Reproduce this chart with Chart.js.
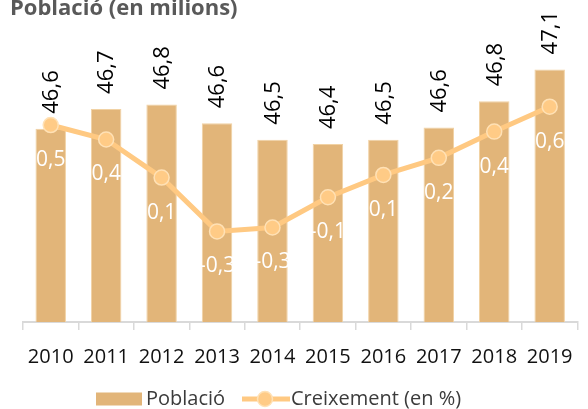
<!DOCTYPE html>
<html>
<head>
<meta charset="utf-8">
<script src="https://cdn.jsdelivr.net/npm/chart.js@4.4.1/dist/chart.umd.min.js"></script>
<style>
  html, body { margin: 0; padding: 0; background: #fff; }
  #wrap { width: 588px; height: 409px; }
</style>
</head>
<body>
<div id="wrap"><canvas id="chart" width="588" height="409"></canvas></div>
<script>
// ===== Dades (llegides del gràfic) =====
const years = ["2010", "2011", "2012", "2013", "2014", "2015", "2016", "2017", "2018", "2019"];
const poblacio = [46.56, 46.74, 46.78, 46.61, 46.46, 46.42, 46.46, 46.57, 46.81, 47.10];
const creixement = [0.49, 0.38, 0.09, -0.32, -0.29, -0.06, 0.11, 0.24, 0.44, 0.63];

const TITLE = "Població (en milions)";
const LABEL_BARS = "Població";
const LABEL_LINE = "Creixement (en %)";

const BAR_COLOR = "#E2B579";
const LINE_COLOR = "#FFC982";
const FONT = '"Open Sans", "Liberation Sans", sans-serif';

const fmt = (v) => v.toFixed(1).replace(".", ",");

// títol, etiquetes de dades i llegenda
const deco = {
  id: "deco",
  afterDatasetsDraw(chart) {
    const ctx = chart.ctx;
    ctx.save();

    // valors de les barres, girats
    ctx.font = "22px " + FONT;
    ctx.fillStyle = "#000";
    ctx.textAlign = "left";
    ctx.textBaseline = "middle";
    chart.getDatasetMeta(0).data.forEach((el, i) => {
      ctx.save();
      ctx.translate(el.x + 1, el.y - 15);
      ctx.rotate(-Math.PI / 2);
      ctx.fillText(fmt(poblacio[i]), 0, 0);
      ctx.restore();
    });

    // valors del creixement, en blanc sota el punt
    ctx.font = "21px " + FONT;
    ctx.fillStyle = "#fff";
    ctx.textAlign = "center";
    chart.getDatasetMeta(1).data.forEach((el, i) => {
      ctx.fillText(fmt(creixement[i]), el.x, el.y + 35);
    });
    ctx.restore();
  },
  afterDraw(chart) {
    const ctx = chart.ctx;
    ctx.save();
    ctx.font = "bold 22px " + FONT;
    ctx.fillStyle = "#595959";
    ctx.textAlign = "left";
    ctx.textBaseline = "alphabetic";
    ctx.fillText(TITLE, 10, 15);

    // llegenda
    const ly = 399;
    ctx.fillStyle = BAR_COLOR;
    ctx.fillRect(96, ly - 6.5, 46, 13);
    ctx.strokeStyle = LINE_COLOR;
    ctx.lineWidth = 5;
    ctx.beginPath();
    ctx.moveTo(242, ly);
    ctx.lineTo(290, ly);
    ctx.stroke();
    ctx.beginPath();
    ctx.arc(265, ly, 7.5, 0, Math.PI * 2);
    ctx.fillStyle = "#FFCB86";
    ctx.fill();
    ctx.lineWidth = 1.5;
    ctx.strokeStyle = "#FFE1B5";
    ctx.stroke();

    ctx.font = "20px " + FONT;
    ctx.fillStyle = "#3b3b3b";
    ctx.textBaseline = "middle";
    ctx.fillText(LABEL_BARS, 146, ly);
    ctx.fillText(LABEL_LINE, 291, ly);
    ctx.restore();
  }
};

new Chart(document.getElementById("chart"), {
  type: "bar",
  data: {
    labels: years,
    datasets: [
      {
        type: "bar",
        label: LABEL_BARS,
        data: poblacio,
        yAxisID: "y",
        backgroundColor: BAR_COLOR,
        borderColor: "#F1D2A4",
        borderWidth: 1,
        barPercentage: 0.55,
        categoryPercentage: 1,
        order: 2
      },
      {
        type: "line",
        label: LABEL_LINE,
        data: creixement,
        yAxisID: "y1",
        borderColor: LINE_COLOR,
        borderWidth: 5,
        tension: 0,
        pointRadius: 7.5,
        pointBackgroundColor: "#FFCB86",
        pointBorderColor: "#FFE1B5",
        pointBorderWidth: 1.5,
        clip: false,
        order: 1
      }
    ]
  },
  options: {
    responsive: false,
    animation: false,
    layout: { padding: { left: 23, right: -1, top: 20, bottom: 25 } },
    plugins: {
      legend: { display: false },
      title: { display: false },
      tooltip: { enabled: false }
    },
    scales: {
      x: {
        grid: {
          offset: true,
          drawOnChartArea: false,
          drawTicks: true,
          tickLength: 8,
          color: "#D9D9D9",
          lineWidth: 1.5
        },
        border: { display: true, color: "#D9D9D9", width: 2 },
        ticks: {
          color: "#111",
          padding: 15,
          font: { family: FONT, size: 20 }
        }
      },
      y: { display: false, min: 44.8, max: 47.55 },
      y1: { display: false, position: "right", min: -1.01, max: 1.29 }
    }
  },
  plugins: [deco]
});
</script>
</body>
</html>
